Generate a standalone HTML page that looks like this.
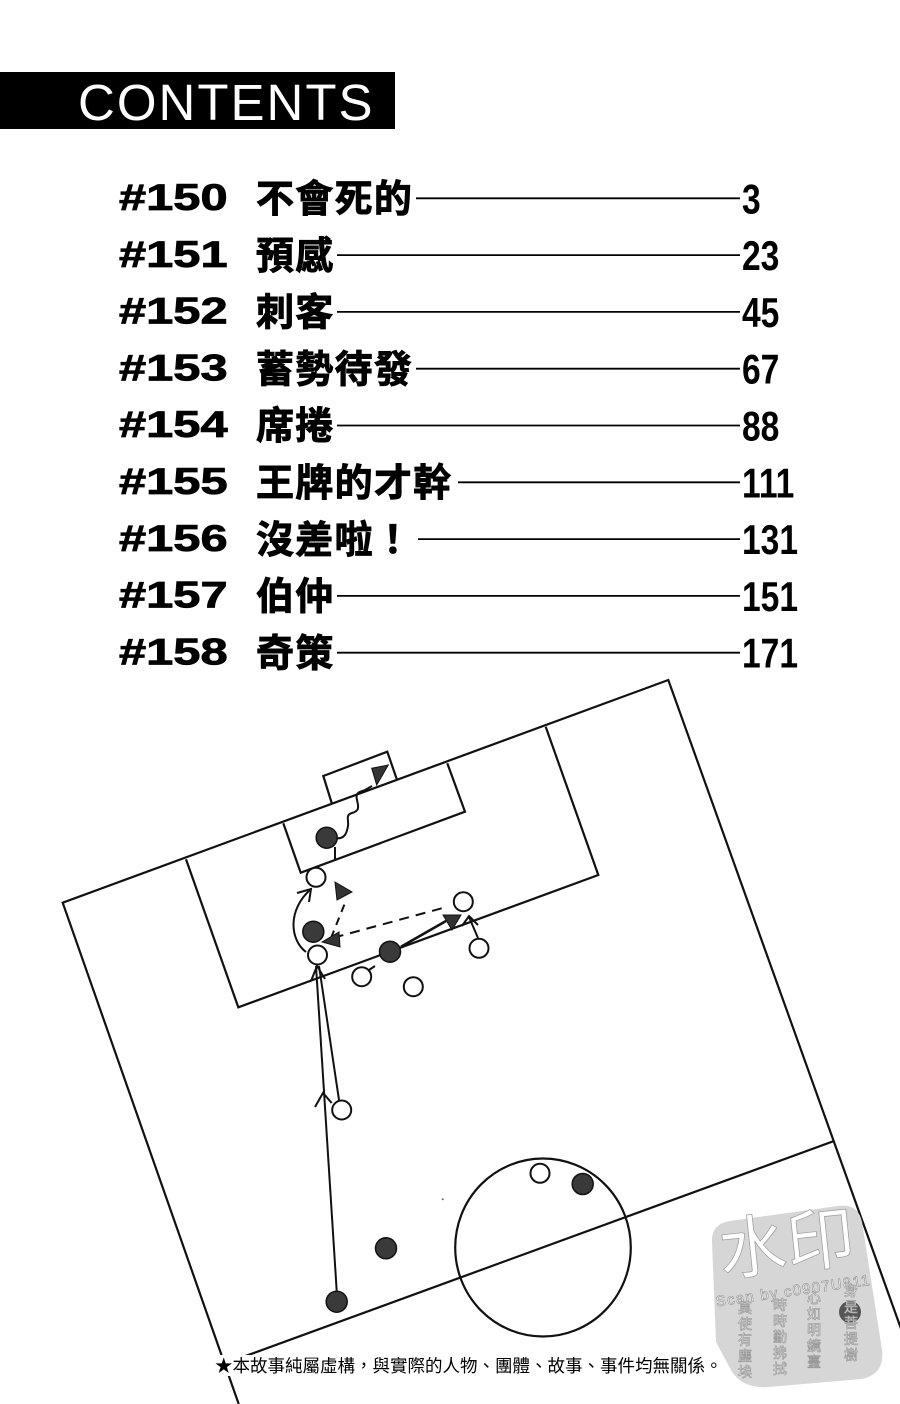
<!DOCTYPE html>
<html>
<head>
<meta charset="utf-8">
<style>
  html,body{margin:0;padding:0;background:#fff;}
  body{width:900px;height:1404px;overflow:hidden;}
  svg{display:block;}
  .num{font-family:"Liberation Sans",Arial,sans-serif;font-weight:700;fill:#000;}
  .ttl{font-family:"Liberation Sans","Noto Sans CJK TC","Noto Sans CJK SC",sans-serif;font-weight:700;fill:#000;stroke:#000;stroke-width:0.9;}
  .pg{font-family:"Liberation Sans",Arial,sans-serif;font-weight:700;fill:#000;}
  .wm{font-family:"Liberation Sans","Noto Sans CJK TC",sans-serif;fill:#fff;stroke:#9a9a9a;stroke-width:0.7;}
</style>
</head>
<body>
<svg width="900" height="1404" viewBox="0 0 900 1404" xmlns="http://www.w3.org/2000/svg">
  <rect width="900" height="1404" fill="#fff"/>

  <!-- Header -->
  <rect x="0" y="72" width="395" height="57" fill="#000"/>
  <text x="78" y="120" font-family="Liberation Sans, Arial, sans-serif" font-size="51" letter-spacing="2" fill="#fff">CONTENTS</text>

  <!-- TOC rows -->
  <g>
    <text class="num" font-size="37" stroke="#000" stroke-width="0.8" transform="translate(119,210) scale(1.32,1)">#150</text>
    <text class="ttl" x="256" y="212" font-size="38" letter-spacing="1.3">不會死的</text>
    <line x1="416" y1="198.3" x2="740" y2="198.3" stroke="#000" stroke-width="1.8"/>
    <text class="pg" font-size="42" transform="translate(742,213.3) scale(0.8,1)">3</text>

    <text class="num" font-size="37" stroke="#000" stroke-width="0.8" transform="translate(119,266.8) scale(1.32,1)">#151</text>
    <text class="ttl" x="256" y="268.8" font-size="38" letter-spacing="1.3">預感</text>
    <line x1="337" y1="255.1" x2="740" y2="255.1" stroke="#000" stroke-width="1.8"/>
    <text class="pg" font-size="42" transform="translate(742,270.1) scale(0.8,1)">23</text>

    <text class="num" font-size="37" stroke="#000" stroke-width="0.8" transform="translate(119,323.6) scale(1.32,1)">#152</text>
    <text class="ttl" x="256" y="325.6" font-size="38" letter-spacing="1.3">刺客</text>
    <line x1="337" y1="311.9" x2="740" y2="311.9" stroke="#000" stroke-width="1.8"/>
    <text class="pg" font-size="42" transform="translate(742,326.9) scale(0.8,1)">45</text>

    <text class="num" font-size="37" stroke="#000" stroke-width="0.8" transform="translate(119,380.4) scale(1.32,1)">#153</text>
    <text class="ttl" x="256" y="382.4" font-size="38" letter-spacing="1.3">蓄勢待發</text>
    <line x1="416" y1="368.7" x2="740" y2="368.7" stroke="#000" stroke-width="1.8"/>
    <text class="pg" font-size="42" transform="translate(742,383.7) scale(0.8,1)">67</text>

    <text class="num" font-size="37" stroke="#000" stroke-width="0.8" transform="translate(119,437.2) scale(1.32,1)">#154</text>
    <text class="ttl" x="256" y="439.2" font-size="38" letter-spacing="1.3">席捲</text>
    <line x1="337" y1="425.5" x2="740" y2="425.5" stroke="#000" stroke-width="1.8"/>
    <text class="pg" font-size="42" transform="translate(742,440.5) scale(0.8,1)">88</text>

    <text class="num" font-size="37" stroke="#000" stroke-width="0.8" transform="translate(119,494) scale(1.32,1)">#155</text>
    <text class="ttl" x="256" y="496" font-size="38" letter-spacing="1.3">王牌的才幹</text>
    <line x1="458" y1="482.3" x2="740" y2="482.3" stroke="#000" stroke-width="1.8"/>
    <text class="pg" font-size="42" transform="translate(742,497.3) scale(0.8,1)">111</text>

    <text class="num" font-size="37" stroke="#000" stroke-width="0.8" transform="translate(119,550.8) scale(1.32,1)">#156</text>
    <text class="ttl" x="256" y="552.8" font-size="38" letter-spacing="1.3">沒差啦！</text>
    <line x1="418" y1="539.1" x2="740" y2="539.1" stroke="#000" stroke-width="1.8"/>
    <text class="pg" font-size="42" transform="translate(742,554.1) scale(0.8,1)">131</text>

    <text class="num" font-size="37" stroke="#000" stroke-width="0.8" transform="translate(119,607.6) scale(1.32,1)">#157</text>
    <text class="ttl" x="256" y="609.6" font-size="38" letter-spacing="1.3">伯仲</text>
    <line x1="337" y1="595.9" x2="740" y2="595.9" stroke="#000" stroke-width="1.8"/>
    <text class="pg" font-size="42" transform="translate(742,610.9) scale(0.8,1)">151</text>

    <text class="num" font-size="37" stroke="#000" stroke-width="0.8" transform="translate(119,664.4) scale(1.32,1)">#158</text>
    <text class="ttl" x="256" y="666.4" font-size="38" letter-spacing="1.3">奇策</text>
    <line x1="337" y1="652.7" x2="740" y2="652.7" stroke="#000" stroke-width="1.8"/>
    <text class="pg" font-size="42" transform="translate(742,667.7) scale(0.8,1)">171</text>
  </g>

  <!-- Field -->
  <g fill="none" stroke="#111" stroke-width="2.2" stroke-linejoin="miter">
    <polyline points="238.7,1404 62.7,902.7 668.3,680 928,1404"/>
    <line x1="224.5" y1="1363.7" x2="834" y2="1141"/>
    <ellipse cx="543" cy="1247.5" rx="87.8" ry="89"/>
    <polyline points="186,859.3 238.3,1007.3 598.3,875 545.7,726.7"/>
    <polyline points="283.3,823.3 300.7,872.7 465,811.7 447.3,763.3"/>
    <polyline points="331.7,803 323.3,776 387.3,751.7 396.7,779"/>
  </g>

  <!-- movement lines -->
  <g fill="none" stroke="#111" stroke-width="2">
    <path d="M335 838 C345 840 347 832 348 826 S345 815 352 813 S359 808 357 800 S360 792 365 790 L372 786"/>
    <line x1="335" y1="847" x2="335" y2="860"/>
    <path d="M306 952 C290 940 287 910 311 889"/>
    <polyline points="297,893 311,889 309,902"/>
    <line x1="331" y1="938" x2="345" y2="903" stroke-dasharray="8 6"/>
    <line x1="441.7" y1="908.3" x2="338" y2="936.5" stroke-dasharray="10 7"/>
    <line x1="401" y1="946.7" x2="446" y2="921" stroke-width="2.6"/>
    <line x1="478" y1="938" x2="469" y2="917"/>
    <polyline points="462,926 469,916 478,925"/>
    <line x1="369" y1="970" x2="375" y2="966"/>
    <line x1="336.7" y1="1291" x2="316" y2="966"/>
    <line x1="339" y1="1100" x2="319" y2="966"/>
    <polyline points="315,1107 323,1093 331.7,1103"/>
    <polyline points="311,981 317,966 325,979"/>
  </g>

  <!-- filled arrowheads -->
  <g fill="#333" stroke="#111" stroke-width="1">
    <polygon points="371.7,768.3 388.3,765 376.7,785"/>
    <polygon points="335,882 352,892 337,900"/>
    <polygon points="322,942 339,932 340,947"/>
    <polygon points="443,915 461,915 452,930"/>
  </g>

  <!-- players: filled -->
  <g fill="#3a3a3a" stroke="#111" stroke-width="1.5">
    <circle cx="326.7" cy="837.7" r="10.5"/>
    <circle cx="313.3" cy="931.7" r="10.5"/>
    <circle cx="390" cy="951.7" r="10.5"/>
    <circle cx="386" cy="1248.3" r="10.5"/>
    <circle cx="336.7" cy="1301.7" r="10.5"/>
    <circle cx="582.7" cy="1184" r="10.5"/>
  </g>
  <!-- players: open -->
  <g fill="#fff" stroke="#111" stroke-width="2">
    <circle cx="316" cy="877.3" r="9.5"/>
    <circle cx="317.5" cy="955" r="9.5"/>
    <circle cx="463.3" cy="901.7" r="9.5"/>
    <circle cx="479" cy="948.3" r="9.5"/>
    <circle cx="361.7" cy="976.7" r="9.5"/>
    <circle cx="413.3" cy="986.7" r="9.5"/>
    <circle cx="341.7" cy="1110" r="9.5"/>
    <circle cx="540" cy="1173.3" r="9.5"/>
  </g>
  <circle cx="442.7" cy="1199.3" r="1" fill="#666"/>

  <!-- disclaimer -->
  <rect x="212" y="1355" width="514" height="21" fill="#fff"/>
  <text x="215" y="1372" font-family="Liberation Sans, 'Noto Sans CJK TC', sans-serif" font-size="17.5" fill="#000">★本故事純屬虛構，與實際的人物、團體、故事、事件均無關係。</text>

  <!-- watermark -->
  <path d="M712 1242 Q711 1224 730 1221 L838 1206 Q858 1203 862 1222 L882 1350 Q885 1374 862 1379 L768 1387 Q744 1389 732 1372 L716 1342 Z" fill="#d6d6d6"/>
  <circle cx="850" cy="1312" r="11" fill="#555"/>
  <g transform="rotate(-6 785 1240)">
    <text class="wm" x="718" y="1268" font-size="68" stroke-width="1">水印</text>
  </g>
  <g transform="rotate(-8 790 1283)">
    <text class="wm" x="714" y="1296" font-size="15" letter-spacing="1.3">Scan by c0907U811</text>
  </g>
  <g class="wm" font-size="14">
    <text x="738" y="1313">莫</text><text x="738" y="1329">使</text><text x="738" y="1345">有</text><text x="738" y="1361">塵</text><text x="738" y="1377">埃</text>
    <text x="773" y="1310">時</text><text x="773" y="1326">時</text><text x="773" y="1342">勤</text><text x="773" y="1358">拂</text><text x="773" y="1374">拭</text>
    <text x="807" y="1303">心</text><text x="807" y="1319">如</text><text x="807" y="1335">明</text><text x="807" y="1351">鏡</text><text x="807" y="1367">臺</text>
    <text x="844" y="1296">身</text><text x="844" y="1312">是</text><text x="844" y="1328">菩</text><text x="844" y="1344">提</text><text x="844" y="1360">樹</text>
  </g>
</svg>
</body>
</html>
